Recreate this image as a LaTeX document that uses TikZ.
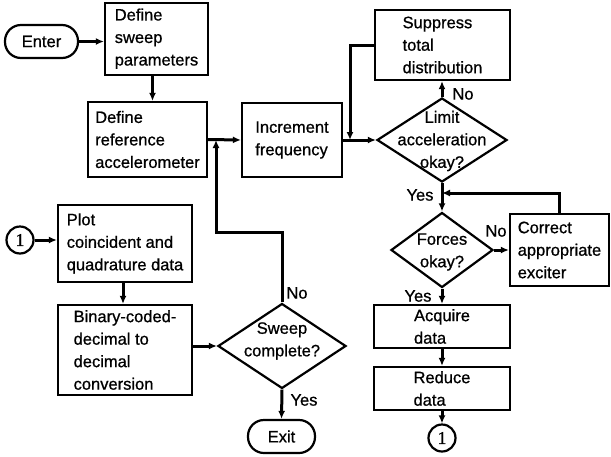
\documentclass[tikz,border=0pt]{standalone}
\usepackage{fontspec}
\setmainfont[FakeBold=0.8]{Liberation Sans}
\newfontfamily\serifone[FakeBold=0.8]{Liberation Serif}
\usetikzlibrary{shapes.geometric,arrows.meta}
\begin{document}
\begin{tikzpicture}[x=1pt,y=-1pt,
  every node/.style={font=\fontsize{16.5}{22.5}\selectfont},
  box/.style={draw,line width=2.2pt,rectangle,align=left,inner sep=0pt},
  dec/.style={draw,line width=2.2pt,diamond,inner sep=0pt},
  term/.style={draw,line width=2.2pt,rectangle,rounded corners=16pt,inner sep=0pt,minimum height=33pt},
  conn/.style={draw,line width=2.2pt,circle,inner sep=0pt,minimum size=27pt,font=\serifone\fontsize{18}{20}\selectfont},
  arr/.style={line width=3pt,-{Latex[length=8pt,width=7pt]}},
  lbl/.style={inner sep=0pt}]
\fill[white] (0,0) rectangle (611,456);
\useasboundingbox (0,0) rectangle (611,456);

% nodes
\node[term,minimum width=73pt] (enter) at (41.5,41.5) {Enter};
\node[box,minimum width=103pt,minimum height=72pt,text depth=4pt] (sweep) at (156.5,39) {Define\\sweep\\parameters};
\node[box,minimum width=119pt,minimum height=75pt] (ref) at (147.5,139.5) {Define\\reference\\accelerometer};
\node[box,minimum width=100pt,minimum height=74pt] (inc) at (292,140) {Increment\\frequency};
\node[box,minimum width=135pt,minimum height=70pt] (supp) at (442.5,45) {Suppress\\total\\distribution};
\node[dec,minimum width=130pt,minimum height=84pt] (limit) at (442,140) {};
\node[lbl,align=center] (limitt) at (442,141) {Limit\\acceleration\\okay?};
\node[dec,minimum width=102pt,minimum height=75pt] (forces) at (442,250) {};
\node[lbl,align=center] (forcest) at (442,252) {Forces\\okay?};
\node[box,minimum width=99pt,minimum height=72pt] (correct) at (559.5,250) {Correct\\appropriate\\exciter};
\node[box,minimum width=136pt,minimum height=43pt] (acquire) at (442,326.5) {Acquire\\data};
\node[box,minimum width=136pt,minimum height=43pt] (reduce) at (442,388.5) {Reduce\\data};
\node[conn] (c1b) at (442,438) {1};
\node[conn] (c1a) at (20,240) {1};
\node[box,minimum width=134pt,minimum height=77pt] (plot) at (125,243.5) {Plot\\coincident and\\quadrature data};
\node[box,minimum width=134pt,minimum height=90pt] (bcd) at (125,350) {Binary-coded-\\decimal to\\decimal\\conversion};
\node[dec,minimum width=128pt,minimum height=85pt] (sweepc) at (282,346) {};
\node[lbl,align=center] (sweepct) at (282,341) {Sweep\\complete?};
\node[term,minimum width=67pt] (exit) at (281.5,436.5) {Exit};

% helper coordinates
\coordinate (j1) at (350,140);
\coordinate (j2) at (442,193);
\coordinate (j3) at (216,140);
\coordinate (b3) at (216,232);

% connectors
\draw[arr] (enter) -- (sweep.west |- enter.east);
\draw[arr] ([xshift=-4pt]sweep.south) -- ([xshift=-4pt]sweep.south |- ref.north);
\draw[arr] (ref.east) -- (inc.west);
\draw[arr] (inc.east) -- (limit.west);
\draw[arr] (limit.north) -- (limit.north |- supp.south);
\draw[arr] (supp.west) -| (j1);
\draw[arr] (limit.south) -- (forces.north);
\draw[arr] (correct.north) |- (j2);
\draw[arr] (forces.east) -- (correct.west |- forces.east);
\draw[arr] (forces.south) -- (acquire.north);
\draw[arr] (acquire.south) -- (reduce.north);
\draw[arr] (reduce.south) -- (c1b.north);
\draw[arr] (c1a.east) -- (plot.west |- c1a.east);
\draw[arr] ([xshift=-2pt]plot.south) -- ([xshift=-2pt]plot.south |- bcd.north);
\draw[arr] (bcd.east |- sweepc.west) -- (sweepc.west);
\draw[arr] (sweepc.north) |- (b3) -- (j3);
\draw[arr] (sweepc.south) -- (exit.north);

% labels
\node[lbl] (no1) at (463,94) {No};
\node[lbl] (yes1) at (420,195) {Yes};
\node[lbl] (no2) at (496,231) {No};
\node[lbl] (yes2) at (418,296) {Yes};
\node[lbl] (no3) at (297,293) {No};
\node[lbl] (yes3) at (304,400) {Yes};
\end{tikzpicture}
\end{document}
